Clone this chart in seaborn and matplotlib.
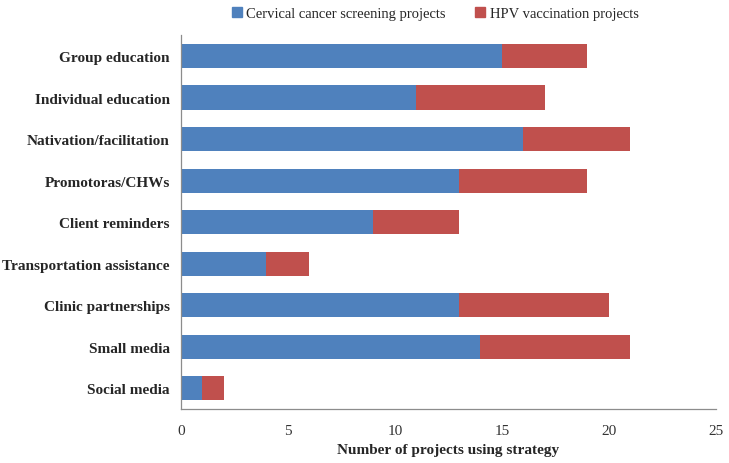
import pandas as pd
import seaborn as sns
import matplotlib
matplotlib.use("Agg")
import matplotlib.pyplot as plt
from matplotlib.patches import Patch

# Data
strategies = [
    "Group education",
    "Individual education",
    "Nativation/facilitation",
    "Promotoras/CHWs",
    "Client reminders",
    "Transportation assistance",
    "Clinic partnerships",
    "Small media",
    "Social media",
]
screening = [15, 11, 16, 13, 9, 4, 13, 14, 1]
hpv = [4, 6, 5, 6, 4, 2, 7, 7, 1]
x_ticks = [0, 5, 10, 15, 20, 25]

BLUE = "#4F81BD"
RED = "#C0504D"

df = pd.DataFrame({"strategy": strategies, "screening": screening, "hpv": hpv})
df["total"] = df["screening"] + df["hpv"]

sns.set_style("white")
plt.rcParams["font.family"] = ["Liberation Serif", "DejaVu Serif"]

fig = plt.figure(figsize=(7.29, 4.64), dpi=100)
ax = fig.add_axes([0.248, 0.116, 0.734, 0.806])

# stacked bars: draw total (red) first, then screening (blue) on top
sns.barplot(data=df, y="strategy", x="total", color=RED, saturation=1,
            width=0.58, orient="h", linewidth=0, ax=ax)
sns.barplot(data=df, y="strategy", x="screening", color=BLUE, saturation=1,
            width=0.58, orient="h", linewidth=0, ax=ax)

ax.set_xlim(0, 25)
ax.set_ylim(8.5, -0.5)
ax.set_xticks(x_ticks)
ax.tick_params(axis="x", length=0, labelsize=11, colors="#333333", pad=11)
ax.tick_params(axis="y", length=0, labelsize=11, pad=8)
for lbl in ax.get_yticklabels():
    lbl.set_fontweight("bold")

ax.set_ylabel("")
ax.set_xlabel("Number of projects using strategy", fontsize=11,
              fontweight="bold", labelpad=4)

for side in ["top", "right"]:
    ax.spines[side].set_visible(False)
for side in ["left", "bottom"]:
    ax.spines[side].set_color("#8c8c8c")
    ax.spines[side].set_linewidth(0.9)

handles = [Patch(color=BLUE, label="Cervical cancer screening projects"),
           Patch(color=RED, label="HPV vaccination projects")]
fig.legend(handles=handles, loc="upper center", bbox_to_anchor=(0.597, 1.012),
           ncol=2, frameon=False, fontsize=10.5, handlelength=0.7,
           handleheight=0.7, handletextpad=0.3, columnspacing=2.0)

fig.savefig("out.png", dpi=100)
